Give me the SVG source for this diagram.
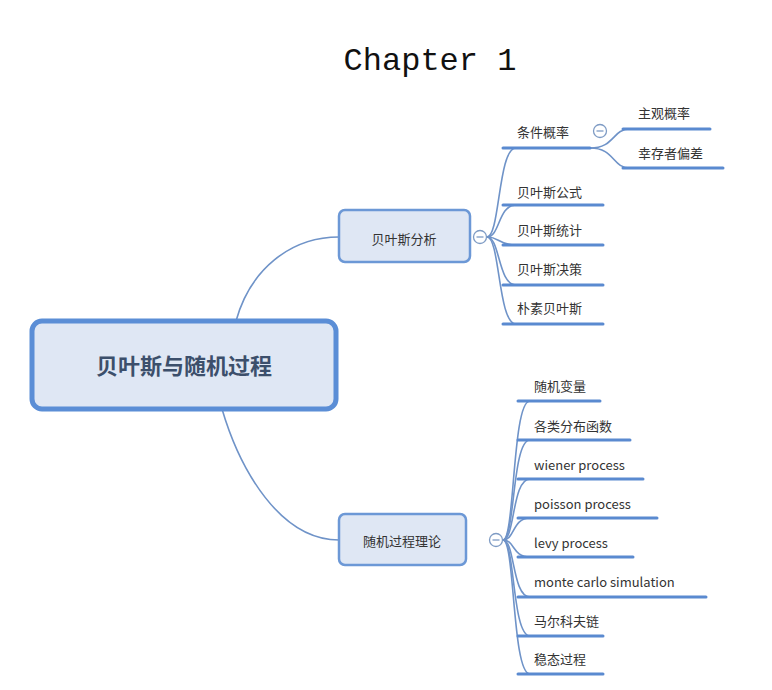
<svg xmlns="http://www.w3.org/2000/svg" width="772" height="690" viewBox="0 0 772 690">
<style>
.t{font-family:"Noto Sans CJK SC","Liberation Sans",sans-serif;font-size:13px;fill:#333}
.ul{stroke:#5a8ad0;stroke-width:3;fill:none;stroke-linecap:round}
.c{stroke:#6f93c8;stroke-width:1.6;fill:none}
.col{fill:#fff;stroke:#7e9bc4;stroke-width:1.3}
.m{stroke:#7e9bc4;stroke-width:1.3}
</style>
<rect width="772" height="690" fill="#fff"/>
<text x="430" y="70" text-anchor="middle" font-family="Liberation Mono,monospace" font-size="32" fill="#111">Chapter 1</text>
<g id="connectors">
<path class="c" d="M236,321 C250,270 290,237 339,237"/>
<path class="c" d="M222,409 C240,470 280,540 339,540"/>
<path class="c" d="M487,237 C500,237 498,148 516,148"/>
<path class="c" d="M487,237 C500,237 498,205 516,205"/>
<path class="c" d="M487,237 C500,237 498,245 516,245"/>
<path class="c" d="M487,237 C500,237 498,285 516,285"/>
<path class="c" d="M487,237 C500,237 498,324 516,324"/>
<path class="c" d="M590,148 C615,148 612,129 630,129"/>
<path class="c" d="M590,148 C615,148 612,168 630,168"/>
<path class="c" d="M503,540 C515,540 512,401 530,401"/>
<path class="c" d="M503,540 C515,540 512,440 530,440"/>
<path class="c" d="M503,540 C515,540 512,479 530,479"/>
<path class="c" d="M503,540 C515,540 512,518 530,518"/>
<path class="c" d="M503,540 C515,540 512,557 530,557"/>
<path class="c" d="M503,540 C515,540 512,597 530,597"/>
<path class="c" d="M503,540 C515,540 512,636 530,636"/>
<path class="c" d="M503,540 C515,540 512,674 530,674"/>
</g>
<g id="root">
<rect x="32" y="321" width="304" height="88" rx="10" fill="#dfe7f4" stroke="#5b8ed6" stroke-width="5"/>
<text x="184" y="374" text-anchor="middle" font-family="Noto Sans CJK SC,sans-serif" font-size="22" font-weight="bold" fill="#3c4f6b">贝叶斯与随机过程</text>
</g>
<g id="b1">
<rect x="339" y="210" width="131" height="52" rx="6" fill="#dfe7f4" stroke="#6c98d6" stroke-width="2.5"/>
<text x="404" y="244" text-anchor="middle" class="t" font-size="16">贝叶斯分析</text>
<circle class="col" cx="480" cy="237" r="6.5"/><line class="m" x1="476.5" y1="237" x2="483.5" y2="237"/>
</g>
<g id="b2">
<rect x="339" y="514" width="127" height="51" rx="6" fill="#dfe7f4" stroke="#6c98d6" stroke-width="2.5"/>
<text x="402" y="546" text-anchor="middle" class="t" font-size="16">随机过程理论</text>
<circle class="col" cx="496" cy="540" r="6.5"/><line class="m" x1="492.5" y1="540" x2="499.5" y2="540"/>
</g>
<g id="n1"><line class="ul" x1="503" y1="148" x2="590" y2="148"/><text class="t" x="517" y="137">条件概率</text>
<circle class="col" cx="600" cy="131" r="6.5"/><line class="m" x1="596.5" y1="131" x2="603.5" y2="131"/></g>
<g id="n11"><line class="ul" x1="623" y1="129" x2="710" y2="129"/><text class="t" x="638" y="118">主观概率</text></g>
<g id="n12"><line class="ul" x1="623" y1="168" x2="723" y2="168"/><text class="t" x="638" y="158">幸存者偏差</text></g>
<g id="n2"><line class="ul" x1="503" y1="205" x2="603" y2="205"/><text class="t" x="517" y="197">贝叶斯公式</text></g>
<g id="n3"><line class="ul" x1="503" y1="245" x2="603" y2="245"/><text class="t" x="517" y="235">贝叶斯统计</text></g>
<g id="n4"><line class="ul" x1="503" y1="285" x2="603" y2="285"/><text class="t" x="517" y="274">贝叶斯决策</text></g>
<g id="n5"><line class="ul" x1="503" y1="324" x2="603" y2="324"/><text class="t" x="517" y="313">朴素贝叶斯</text></g>
<g id="m1"><line class="ul" x1="518" y1="401" x2="600" y2="401"/><text class="t" x="534" y="391">随机变量</text></g>
<g id="m2"><line class="ul" x1="518" y1="440" x2="630" y2="440"/><text class="t" x="534" y="431">各类分布函数</text></g>
<g id="m3"><line class="ul" x1="518" y1="479" x2="643" y2="479"/><text class="t" x="534" y="470">wiener process</text></g>
<g id="m4"><line class="ul" x1="518" y1="518" x2="657" y2="518"/><text class="t" x="534" y="509">poisson process</text></g>
<g id="m5"><line class="ul" x1="518" y1="557" x2="633" y2="557"/><text class="t" x="534" y="548">levy process</text></g>
<g id="m6"><line class="ul" x1="518" y1="597" x2="706" y2="597"/><text class="t" x="534" y="587">monte carlo simulation</text></g>
<g id="m7"><line class="ul" x1="518" y1="636" x2="603" y2="636"/><text class="t" x="534" y="626">马尔科夫链</text></g>
<g id="m8"><line class="ul" x1="518" y1="674" x2="603" y2="674"/><text class="t" x="534" y="664">稳态过程</text></g>
</svg>
